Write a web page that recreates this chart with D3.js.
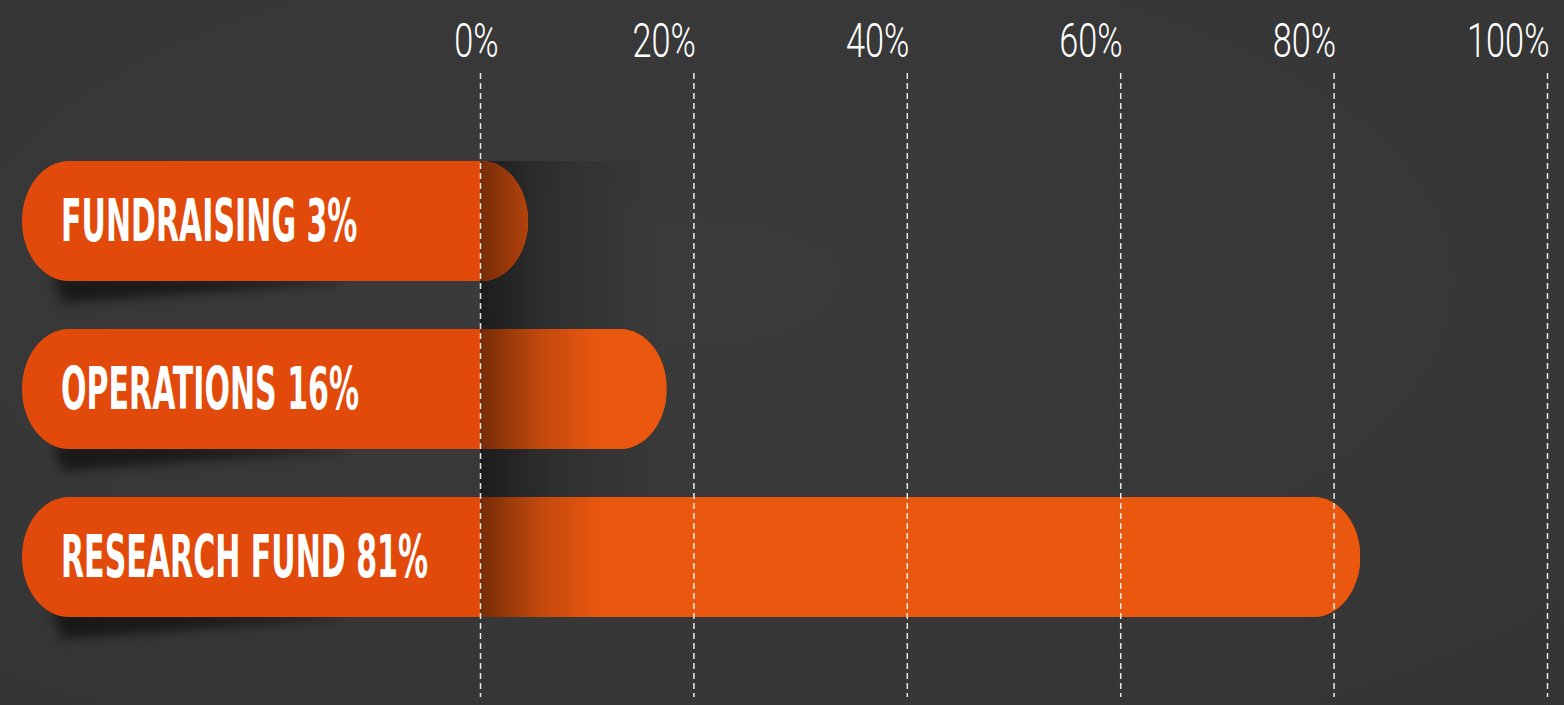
<!DOCTYPE html>
<html>
<head>
<meta charset="utf-8">
<script src="https://cdn.jsdelivr.net/npm/d3@7"></script>
<style>
  html, body { margin: 0; padding: 0; background: #393838; }
  svg { display: block; }
</style>
</head>
<body>
<svg id="chart" width="1564" height="705"></svg>
<script>
// Budget split, in percent
const categories = ["FUNDRAISING", "OPERATIONS", "RESEARCH FUND"];
const shares = [3, 16, 81];
const tickValues = [0, 20, 40, 60, 80, 100];
const tickLabels = ["0%", "20%", "40%", "60%", "80%", "100%"];

const W = 1564, H = 705;
const svg = d3.select("#chart");
const defs = svg.append("defs");

// background with soft lighting
const bgGrad = defs.append("radialGradient").attr("id", "bg")
  .attr("cx", "45%").attr("cy", "40%").attr("r", "75%");
bgGrad.append("stop").attr("offset", "0%").attr("stop-color", "#3c3b3b");
bgGrad.append("stop").attr("offset", "100%").attr("stop-color", "#363535");
svg.append("rect").attr("width", W).attr("height", H).attr("fill", "url(#bg)");

const x = d3.scaleLinear().domain([0, 100]).range([480, 1547]);
const y = d3.scaleBand().domain(categories).range([161, 617])
  .paddingInner(48 / 168).paddingOuter(0);

const barLeft = 22, capOffset = 16, rx = 47;
const data = categories.map((c, i) => ({ name: c, value: shares[i] }));

// shadow falling to the right of the zero line
const sideShade = defs.append("linearGradient").attr("id", "sideShade")
  .attr("gradientUnits", "userSpaceOnUse")
  .attr("x1", x(0)).attr("x2", x(0) + 180).attr("y1", 0).attr("y2", 0);
sideShade.append("stop").attr("offset", "0%").attr("stop-color", "#000").attr("stop-opacity", 0.5);
sideShade.append("stop").attr("offset", "40%").attr("stop-color", "#000").attr("stop-opacity", 0.18);
sideShade.append("stop").attr("offset", "100%").attr("stop-color", "#000").attr("stop-opacity", 0);
svg.append("rect")
  .attr("x", x(0)).attr("y", y.range()[0])
  .attr("width", 180).attr("height", y.range()[1] - y.range()[0] - 10)
  .attr("fill", "url(#sideShade)");

// soft tapered shadows beneath each bar
const blur = defs.append("filter").attr("id", "blur")
  .attr("x", "-20%").attr("y", "-50%").attr("width", "140%").attr("height", "200%");
blur.append("feGaussianBlur").attr("stdDeviation", 6);
svg.append("g").selectAll("path").data(data).join("path")
  .attr("d", d => {
    const b = y(d.name) + y.bandwidth();
    return `M${barLeft + 30},${b - 6} L${barLeft + 320},${b - 2} L${barLeft + 320},${b + 1} L${barLeft + 40},${b + 22} Z`;
  })
  .attr("fill", "#000").attr("opacity", 0.55).attr("filter", "url(#blur)");

// shading across the bar just past the zero line
const barShade = defs.append("linearGradient").attr("id", "barShade")
  .attr("gradientUnits", "userSpaceOnUse")
  .attr("x1", x(0)).attr("x2", x(0) + 120).attr("y1", 0).attr("y2", 0);
barShade.append("stop").attr("offset", "0%").attr("stop-color", "#000").attr("stop-opacity", 0.5);
barShade.append("stop").attr("offset", "50%").attr("stop-color", "#000").attr("stop-opacity", 0.17);
barShade.append("stop").attr("offset", "100%").attr("stop-color", "#000").attr("stop-opacity", 0);

const barBox = d => ({
  x0: barLeft,
  x1: x(d.value) + capOffset,
  y0: y(d.name),
  h: y.bandwidth()
});

const bars = svg.append("g").selectAll("g").data(data).join("g");
bars.each(function (d, i) {
  const g = d3.select(this);
  const b = barBox(d);
  const id = "clip" + i;
  defs.append("clipPath").attr("id", id).append("rect")
    .attr("x", b.x0).attr("y", b.y0).attr("width", b.x1 - b.x0).attr("height", b.h)
    .attr("rx", rx).attr("ry", b.h / 2);
  const c = g.append("g").attr("clip-path", `url(#${id})`);
  c.append("rect").attr("x", b.x0).attr("y", b.y0)
    .attr("width", b.x1 - b.x0).attr("height", b.h).attr("fill", "#e24a0b");
  c.append("rect").attr("x", x(0)).attr("y", b.y0)
    .attr("width", Math.max(0, b.x1 - x(0))).attr("height", b.h).attr("fill", "#ea570f");
  c.append("rect").attr("x", x(0)).attr("y", b.y0)
    .attr("width", Math.max(0, b.x1 - x(0))).attr("height", b.h).attr("fill", "url(#barShade)");
});

// category labels inside the bars
const labels = bars.append("text")
  .attr("x", 61)
  .attr("y", d => y(d.name) + y.bandwidth() / 2 + 20)
  .attr("fill", "#fff")
  .style("font-family", "'Liberation Sans Narrow', 'DejaVu Sans Condensed', sans-serif")
  .style("font-weight", "700")
  .style("font-size", "58px")
  .text(d => `${d.name} ${d.value}%`);
const refWidth = labels.filter((d, i) => i === 2).node().getComputedTextLength();
const kLabel = 367 / refWidth;
labels.each(function () {
  d3.select(this).attr("textLength", this.getComputedTextLength() * kLabel)
    .attr("lengthAdjust", "spacingAndGlyphs");
});

// percentage axis with dashed guide lines
const axis = d3.axisTop(x)
  .tickValues(tickValues)
  .tickFormat((d, i) => tickLabels[i])
  .tickSize(-(697 - 73))
  .tickPadding(16);
const ax = svg.append("g").attr("transform", "translate(0,73)").call(axis);
ax.select(".domain").remove();
ax.selectAll(".tick line")
  .attr("stroke", "#fff").attr("stroke-width", 1.5)
  .attr("stroke-dasharray", "6,4").attr("opacity", 0.9);
ax.selectAll(".tick text")
  .attr("fill", "#fff")
  .attr("dy", 0)
  .attr("y", -16)
  .attr("x", 0)
  .style("font-family", "Roboto, 'Liberation Sans Narrow', sans-serif")
  .style("font-weight", "300")
  .style("font-size", "49px")
  .attr("text-anchor", (d, i) => i === 0 ? "middle" : "end")
  .attr("transform", (d, i) => i === 0 ? "translate(-4,0) scale(0.7,1)" : "translate(2,0) scale(0.7,1)");
</script>
</body>
</html>
